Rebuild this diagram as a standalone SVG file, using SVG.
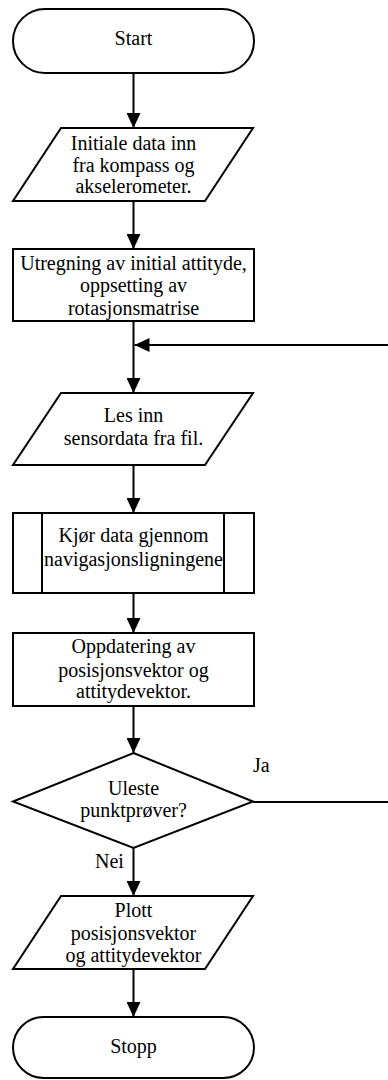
<svg xmlns="http://www.w3.org/2000/svg" width="388" height="1080" viewBox="0 0 388 1080">
<style>
.shape{fill:#fff;stroke:#000;stroke-width:2}
.t{font-family:"Liberation Serif","Times New Roman",serif;font-size:20px;fill:#000;text-anchor:middle}
.lbl{font-family:"Liberation Serif","Times New Roman",serif;font-size:20px;fill:#000}
.c{fill:none;stroke:#000;stroke-width:2}
</style>
<defs>
<marker id="ah" markerUnits="userSpaceOnUse" markerWidth="15" markerHeight="14" refX="15" refY="7" orient="auto">
<path d="M0,0 L15,7 L0,14 z" fill="#000"/>
</marker>
</defs>
<rect width="388" height="1080" fill="#fff"/>
<g id="connectors">
<line class="c" x1="133.5" y1="73" x2="133.5" y2="128" marker-end="url(#ah)"/>
<line class="c" x1="133.5" y1="201" x2="133.5" y2="249" marker-end="url(#ah)"/>
<line class="c" x1="133.5" y1="321" x2="133.5" y2="393" marker-end="url(#ah)"/>
<path class="c" d="M253,802 H389 V345 H134.5" marker-end="url(#ah)"/>
<line class="c" x1="133.5" y1="465" x2="133.5" y2="513" marker-end="url(#ah)"/>
<line class="c" x1="133.5" y1="593" x2="133.5" y2="633" marker-end="url(#ah)"/>
<line class="c" x1="133.5" y1="706" x2="133.5" y2="753" marker-end="url(#ah)"/>
<line class="c" x1="133.5" y1="848" x2="133.5" y2="896" marker-end="url(#ah)"/>
<line class="c" x1="133.5" y1="969" x2="133.5" y2="1017" marker-end="url(#ah)"/>
<text class="lbl" x="253" y="772">Ja</text>
<text class="lbl" x="95" y="868">Nei</text>
</g>
<g id="start">
<rect class="shape" x="13" y="9" width="241" height="64" rx="32" ry="32"/>
<text class="t" x="133.5" y="45">Start</text>
</g>
<g id="input1">
<polygon class="shape" points="61,128 253,128 205,201 13,201"/>
<text class="t" x="133.5" y="150">Initiale data inn</text>
<text class="t" x="133.5" y="172">fra kompass og</text>
<text class="t" x="133.5" y="193">akselerometer.</text>
</g>
<g id="init-attitude">
<rect class="shape" x="13" y="249" width="241" height="72"/>
<text class="t" x="133.5" y="270">Utregning av initial attityde,</text>
<text class="t" x="133.5" y="292">oppsetting av</text>
<text class="t" x="133.5" y="315">rotasjonsmatrise</text>
</g>
<g id="read-sensor">
<polygon class="shape" points="61,393 253,393 205,465 13,465"/>
<text class="t" x="133.5" y="422">Les inn</text>
<text class="t" x="133.5" y="445">sensordata fra fil.</text>
</g>
<g id="navigation">
<rect class="shape" x="13" y="513" width="241" height="80"/>
<line class="c" x1="42" y1="513" x2="42" y2="593"/>
<line class="c" x1="224" y1="513" x2="224" y2="593"/>
<text class="t" x="133.5" y="542">Kjør data gjennom</text>
<text class="t" x="133.5" y="566">navigasjonsligningene</text>
</g>
<g id="update">
<rect class="shape" x="13" y="633" width="241" height="73"/>
<text class="t" x="133.5" y="653">Oppdatering av</text>
<text class="t" x="133.5" y="677">posisjonsvektor og</text>
<text class="t" x="133.5" y="698">attitydevektor.</text>
</g>
<g id="decision">
<polygon class="shape" points="133.5,753 253,801.5 133.5,848 13,801.5"/>
<text class="t" x="133.5" y="795">Uleste</text>
<text class="t" x="133.5" y="817">punktprøver?</text>
</g>
<g id="plot">
<polygon class="shape" points="61,896 253,896 205,969 13,969"/>
<text class="t" x="133.5" y="917">Plott</text>
<text class="t" x="133.5" y="940">posisjonsvektor</text>
<text class="t" x="133.5" y="962">og attitydevektor</text>
</g>
<g id="stop">
<rect class="shape" x="13" y="1017" width="241" height="61" rx="30.5" ry="30.5"/>
<text class="t" x="133.5" y="1053">Stopp</text>
</g>
</svg>
